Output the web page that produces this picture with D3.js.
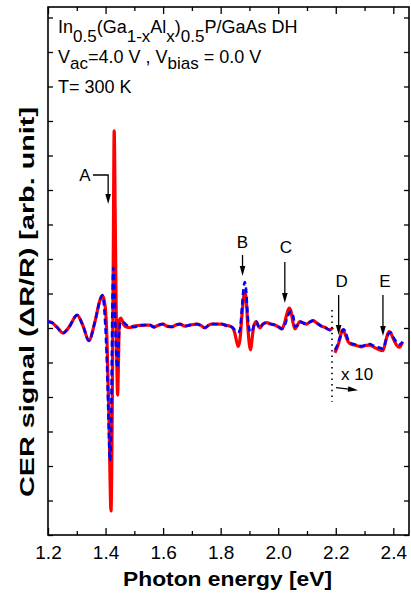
<!DOCTYPE html>
<html><head><meta charset="utf-8">
<script src="https://cdn.jsdelivr.net/npm/d3@7"></script>
<style>
body{margin:0;background:#fff}
svg{display:block}
text{font-family:"Liberation Sans",Arial,sans-serif;fill:#000}
</style>
</head><body>
<svg id="c" width="411" height="594"></svg>
<script>
// ---- data (photon energy in eV, CER signal in arb. units; values right of 2.19 eV are magnified x10) ----
const redE1 = [1.200,1.214,1.231,1.252,1.273,1.301,1.322,1.342,1.363,1.381,1.389,1.398,1.405,1.412,1.419,1.423,1.427,1.430,1.434,1.439,1.442,1.445,1.448,1.453,1.464,1.474,1.485,1.499,1.519,1.540,1.554,1.568,1.582,1.599,1.613,1.631,1.644,1.658,1.676,1.693,1.717,1.731,1.745,1.759,1.769,1.787,1.804,1.818,1.832,1.842,1.849,1.856,1.861,1.867,1.874,1.881,1.884,1.889,1.894,1.900,1.904,1.908,1.915,1.924,1.931,1.936,1.947,1.960,1.974,1.988,2.002,2.013,2.023,2.032,2.038,2.044,2.051,2.058,2.065,2.075,2.085,2.099,2.110,2.121,2.134,2.150,2.165,2.179,2.190];
const redV1 = [0.04,0.01,-0.12,-0.29,-0.12,0.23,-0.09,-0.51,0.03,0.67,0.80,0.52,-0.49,-2.81,-5.45,-2.81,2.12,5.57,2.70,-1.07,-2.09,-1.07,0.09,0.14,-0.06,-0.12,-0.13,-0.09,-0.07,-0.06,-0.06,-0.12,-0.07,-0.03,-0.09,-0.11,-0.06,-0.03,-0.09,-0.06,-0.03,-0.07,-0.14,-0.06,-0.03,-0.03,-0.03,-0.07,-0.09,-0.14,-0.29,-0.55,-0.68,-0.49,0.23,0.81,0.91,0.67,-0.06,-0.64,-0.78,-0.55,-0.09,0.04,-0.09,-0.14,-0.03,0.01,-0.03,-0.06,-0.12,-0.17,0.03,0.32,0.43,0.35,0.03,-0.17,-0.09,0.04,0.01,-0.03,0.03,0.07,0.00,-0.09,-0.14,-0.20,-0.13];
const redE2 = [2.197,2.207,2.214,2.223,2.231,2.243,2.252,2.266,2.289,2.304,2.318,2.332,2.347,2.364,2.376,2.385,2.391,2.399,2.411,2.419,2.424,2.432];
const redV2 = [-0.86,-0.67,-0.46,-0.20,-0.29,-0.54,-0.61,-0.64,-0.69,-0.65,-0.64,-0.70,-0.76,-0.80,-0.44,-0.25,-0.29,-0.44,-0.64,-0.70,-0.69,-0.54];

const blueE1 = [1.200,1.214,1.231,1.252,1.273,1.301,1.322,1.342,1.363,1.381,1.389,1.398,1.405,1.412,1.415,1.419,1.423,1.427,1.431,1.436,1.441,1.447,1.453,1.464,1.474,1.485,1.499,1.519,1.540,1.554,1.568,1.582,1.599,1.613,1.631,1.644,1.658,1.676,1.693,1.717,1.731,1.745,1.759,1.769,1.787,1.804,1.818,1.832,1.842,1.849,1.861,1.867,1.874,1.881,1.884,1.889,1.894,1.901,1.908,1.915,1.924,1.931,1.936,1.947,1.960,1.974,1.988,2.002,2.013,2.023,2.033,2.046,2.052,2.059,2.065,2.075,2.085,2.099,2.110,2.121,2.134,2.150,2.165,2.179,2.190];
const blueV1 = [0.04,0.01,-0.12,-0.29,-0.12,0.23,-0.09,-0.51,0.03,0.67,0.80,0.10,-1.20,-3.30,-4.00,-3.30,0.00,1.60,0.90,-0.70,-1.30,-0.30,0.04,0.01,-0.06,-0.09,-0.12,-0.07,-0.06,-0.06,-0.12,-0.07,-0.03,-0.09,-0.11,-0.06,-0.03,-0.09,-0.06,-0.03,-0.07,-0.14,-0.06,-0.03,-0.03,-0.03,-0.07,-0.09,-0.14,-0.20,-0.26,-0.20,0.45,1.10,1.19,0.90,0.20,-0.22,-0.26,-0.09,0.04,-0.09,-0.14,-0.03,0.01,-0.03,-0.06,-0.12,-0.17,-0.06,0.20,0.33,0.20,-0.10,-0.09,0.04,0.01,-0.03,0.03,0.07,0.00,-0.09,-0.14,-0.20,-0.13];
const blueE2 = [2.197,2.207,2.214,2.228,2.235,2.243,2.252,2.266,2.289,2.304,2.318,2.332,2.347,2.364,2.376,2.385,2.391,2.399,2.411,2.422,2.432];
const blueV2 = [-0.78,-0.61,-0.44,-0.18,-0.29,-0.49,-0.58,-0.62,-0.67,-0.64,-0.61,-0.66,-0.70,-0.74,-0.46,-0.30,-0.28,-0.40,-0.55,-0.62,-0.55];

const xMajorTicks = [1.2,1.4,1.6,1.8,2.0,2.2,2.4];
const xTickLabels = ["1.2","1.4","1.6","1.8","2.0","2.2","2.4"];
const xMinorTicks = [1.3,1.5,1.7,1.9,2.1,2.3];
const yTicks = d3.range(16).map(k => -6.145 + k);

const peakLabels = ["A","B","C","D","E"];
const peakEnergies = [1.409,1.876,2.023,2.210,2.364];
const breakEnergy = 2.187;

// ---- layout ----
const L = 48, R = 409, T = 7, B = 535;
const svg = d3.select("#c");
const x = d3.scaleLinear().domain([1.2, 2.4545]).range([L, R]);
const y = d3.scaleLinear().domain([-6.145, 9.159]).range([B, T]);

// axes (inward ticks)
function styleAxis(g){ g.select(".domain").remove(); g.selectAll("line").attr("stroke","#000").attr("stroke-width",1.3); }
svg.append("g").attr("transform",`translate(0,${B})`)
  .call(d3.axisBottom(x).tickValues(xMajorTicks).tickSizeInner(-7).tickSizeOuter(0).tickPadding(10.5)
    .tickFormat((d,i)=>xTickLabels[i]))
  .call(styleAxis)
  .call(g=>g.selectAll("text").attr("font-size",19).attr("font-family",'"Liberation Sans",Arial,sans-serif').attr("fill","#000"));
svg.append("g").attr("transform",`translate(0,${B})`)
  .call(d3.axisBottom(x).tickValues(xMinorTicks).tickSizeInner(-4).tickSizeOuter(0).tickFormat(""))
  .call(styleAxis);
svg.append("g").attr("transform",`translate(0,${T})`)
  .call(d3.axisTop(x).tickValues(xMajorTicks).tickSizeInner(-7).tickSizeOuter(0).tickFormat(""))
  .call(styleAxis);
svg.append("g").attr("transform",`translate(0,${T})`)
  .call(d3.axisTop(x).tickValues(xMinorTicks).tickSizeInner(-4).tickSizeOuter(0).tickFormat(""))
  .call(styleAxis);
svg.append("g").attr("transform",`translate(${L},0)`)
  .call(d3.axisLeft(y).tickValues(yTicks).tickSizeInner(-5).tickSizeOuter(0).tickFormat(""))
  .call(styleAxis);
svg.append("g").attr("transform",`translate(${R},0)`)
  .call(d3.axisRight(y).tickValues(yTicks).tickSizeInner(-5).tickSizeOuter(0).tickFormat(""))
  .call(styleAxis);

svg.append("rect").attr("x",L).attr("y",T).attr("width",R-L).attr("height",B-T)
  .attr("fill","none").attr("stroke","#000").attr("stroke-width",1.6);

// curves
const line = d3.line().x(d=>x(d[0])).y(d=>y(d[1])).curve(d3.curveMonotoneX);
const zip = (a,b)=>a.map((v,i)=>[v,b[i]]);
[[redE1,redV1],[redE2,redV2]].forEach(([e,v])=>{
  svg.append("path").attr("d",line(zip(e,v))).attr("fill","none")
    .attr("stroke","#ff0000").attr("stroke-width",3.2).attr("stroke-linejoin","round");
});
[[blueE1,blueV1],[blueE2,blueV2]].forEach(([e,v])=>{
  svg.append("path").attr("d",line(zip(e,v))).attr("fill","none")
    .attr("stroke","#0000ff").attr("stroke-width",2.6).attr("stroke-dasharray","6,3.5");
});

// break marker
svg.append("line").attr("x1",x(breakEnergy)).attr("x2",x(breakEnergy)).attr("y1",310).attr("y2",402)
  .attr("stroke","#000").attr("stroke-width",1.6).attr("stroke-dasharray","1.5,4.2");
svg.append("text").attr("x",341).attr("y",380).attr("font-size",17).text("x 10");

// arrows
function arrowHead(tx,ty,dx,dy){ // tip at tx,ty; direction unit dx,dy
  const len=10, hw=2.8, px=-dy, py=dx;
  const bx=tx-dx*len, by=ty-dy*len;
  svg.append("path").attr("d",`M${tx},${ty}L${bx+px*hw},${by+py*hw}L${bx-px*hw},${by-py*hw}Z`).attr("fill","#000");
}
function vArrow(xx,y1,y2){
  svg.append("line").attr("x1",xx).attr("x2",xx).attr("y1",y1).attr("y2",y2-6).attr("stroke","#000").attr("stroke-width",1.3);
  arrowHead(xx,y2,0,1);
}
// x10 arrow
svg.append("line").attr("x1",336).attr("y1",387.6).attr("x2",351).attr("y2",389.4).attr("stroke","#000").attr("stroke-width",1.3);
arrowHead(358,390.2,0.993,0.118);

// A: bent arrow
const ax = x(peakEnergies[0]);
svg.append("text").attr("x",85).attr("y",181).attr("text-anchor","middle").attr("font-size",17).text(peakLabels[0]);
svg.append("path").attr("d",`M93,175H${ax}V197`).attr("fill","none").attr("stroke","#000").attr("stroke-width",1.3);
arrowHead(ax,204,0,1);
// B..E
const labelY = [0,248,253,287,287];
const arrowTop = [0,255,262,295,295];
const arrowTip = [0,276,303,335,336];
const labelDx = [0,0,1,3,2];
for (let i=1;i<5;i++){
  const px = x(peakEnergies[i]);
  svg.append("text").attr("x",px+labelDx[i]).attr("y",labelY[i]).attr("text-anchor","middle").attr("font-size",17).text(peakLabels[i]);
  vArrow(px,arrowTop[i],arrowTip[i]);
}

// rich text
function rich(x0,y0,parts,shift){
  const t = svg.append("text").attr("x",x0).attr("y",y0).attr("font-size",18);
  let cur=0;
  parts.forEach(([s,sub])=>{
    const target = sub?shift:0;
    t.append("tspan").attr("dy",target-cur).attr("font-size",sub?17:18).text(s);
    cur=target;
  });
}
rich(58,33,[["In"],["0.5",1],["(Ga"],["1-x",1],["Al"],["x",1],[")"],["0.5",1],["P/GaAs DH"]],9);
rich(58,63,[["V"],["ac",1],["=4.0 V , V"],["bias",1],[" = 0.0 V"]],5.5);
rich(58,93,[["T= 300 K"]],0);

// axis titles
svg.append("text").attr("x",227.5).attr("y",586).attr("text-anchor","middle")
  .attr("font-size",20).attr("font-weight","bold").attr("textLength",209).attr("lengthAdjust","spacingAndGlyphs")
  .text("Photon energy [eV]");
svg.append("text").attr("transform","translate(34,302) rotate(-90)").attr("text-anchor","middle")
  .attr("font-size",20).attr("font-weight","bold").attr("textLength",390).attr("lengthAdjust","spacingAndGlyphs")
  .text("CER signal (\u0394R/R) [arb. unit]");
</script>
</body></html>
